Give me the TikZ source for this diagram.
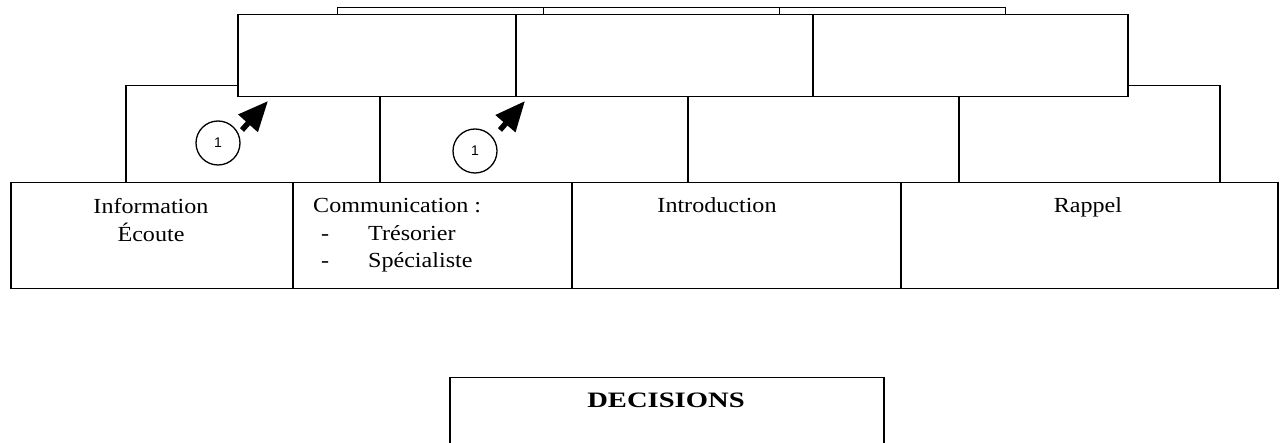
\documentclass[tikz,border=0pt]{standalone}
\usepackage{fontspec}
\setmainfont{Liberation Serif}[FakeStretch=1.12]
\newfontfamily\headfont{Liberation Serif}[FakeStretch=1.3]
\newfontfamily\numfont{Liberation Sans}
\usetikzlibrary{arrows.meta}
\begin{document}
\begin{tikzpicture}[x=1pt,y=-1pt,
  cell/.style={draw, line width=1.5pt, inner sep=0pt, anchor=north west, fill=white},
  thincell/.style={cell, line width=1.1pt},
  label/.style={inner sep=0pt, font=\fontsize{21.5}{27.5}\selectfont},
  numcircle/.style={draw, circle, line width=1.3pt, minimum size=44pt, inner sep=0pt,
    font=\numfont\fontsize{14}{14}\selectfont},
  pointer/.style={line width=5.5pt, -{Triangle[length=30pt, width=25pt]}}]
\useasboundingbox (0,0) rectangle (1280,443);
\clip (0,0) rectangle (1280,443);

% second course of the wall
\node[cell, minimum width=254pt, minimum height=97pt] (b1) at (125,85) {};
\node[cell, minimum width=308pt, minimum height=97pt] (b2) at (379,85) {};
\node[cell, minimum width=271pt, minimum height=97pt] (b3) at (687,85) {};
\node[cell, minimum width=261pt, minimum height=97pt] (b4) at (958,85) {};

% thin coping on top
\node[thincell, minimum width=206pt, minimum height=7pt] (s1) at (337,7) {};
\node[thincell, minimum width=236pt, minimum height=7pt] (s2) at (543,7) {};
\node[thincell, minimum width=226pt, minimum height=7pt] (s3) at (779,7) {};

% top course
\node[cell, minimum width=278pt, minimum height=82pt] (a1) at (237,14) {};
\node[cell, minimum width=297pt, minimum height=82pt] (a2) at (515,14) {};
\node[cell, minimum width=315pt, minimum height=82pt] (a3) at (812,14) {};

% base course
\node[cell, minimum width=282pt, minimum height=106pt] (c1) at (10,182) {};
\node[cell, minimum width=279pt, minimum height=106pt] (c2) at (292,182) {};
\node[cell, minimum width=329pt, minimum height=106pt] (c3) at (571,182) {};
\node[cell, minimum width=377pt, minimum height=106pt] (c4) at (900,182) {};

% decisions box, open at the bottom edge
\node[cell, minimum width=434pt, minimum height=110pt] (dec) at (449,377) {};

% texts of the base course
\node[label, anchor=base] (info1) at (151,214) {Information};
\node[label, anchor=base] (info2) at (151,241.5) {Écoute};
\node[label, anchor=base west] (comm1) at (313,213) {Communication :};
\node[label, anchor=base west] (comm2) at (321,240.5) {\makebox[47pt][l]{-}Trésorier};
\node[label, anchor=base west] (comm3) at (321,268) {\makebox[47pt][l]{-}Spécialiste};
\node[label, anchor=base] (intro) at (717,213) {Introduction};
\node[label, anchor=base] (rappel) at (1088,213) {Rappel};
\node[inner sep=0pt, anchor=base, font=\headfont\bfseries\fontsize{22}{22}\selectfont] (dectext) at (666,408) {DECISIONS};

% numbered markers with their arrows
\node[numcircle] (n1) at (218,143) {1};
\node[numcircle] (n2) at (475,151) {1};
\coordinate (p1) at (242,130);
\coordinate (q1) at (268,101);
\coordinate (p2) at (500,130);
\coordinate (q2) at (525,101);
\draw[pointer] (p1) -- (q1);
\draw[pointer] (p2) -- (q2);
\end{tikzpicture}
\end{document}
